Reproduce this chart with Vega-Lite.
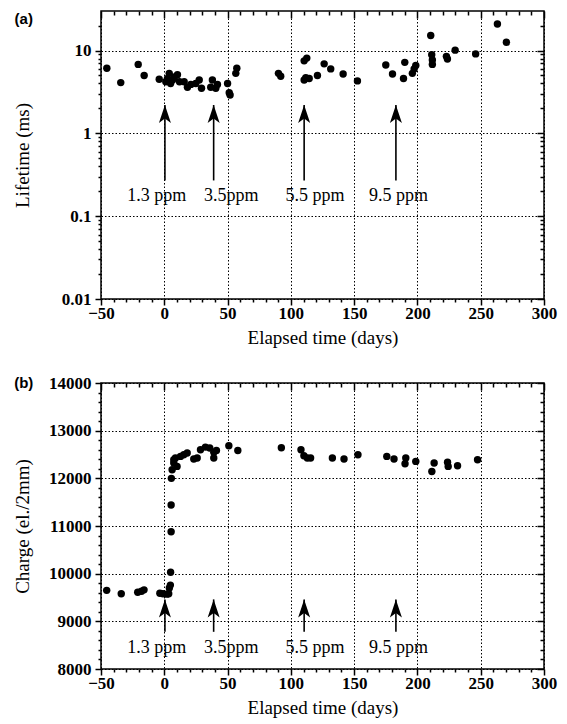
{
  "$schema": "https://vega.github.io/schema/vega-lite/v6.json",
  "padding": {"left": 12, "top": 9, "right": 20, "bottom": 4},
  "spacing": 25,
  "config": {
    "view": {"stroke": "black", "strokeWidth": 1.5},
    "font": "Liberation Serif",
    "axis": {"domain": false, "labelFontSize": 17, "labelFontWeight": "bold", "titleFontSize": 19, "titleFontWeight": "normal", "labelFont": "Liberation Serif", "titleFont": "Liberation Serif"}
  },
  "datasets": {
    "life": [
      {"day": -45.4, "lifetime": 6.1}, {"day": -34.4, "lifetime": 4.1}, {"day": -20.6, "lifetime": 6.8}, {"day": -15.9, "lifetime": 5.0},
      {"day": -4, "lifetime": 4.5}, {"day": 1.2, "lifetime": 4.2}, {"day": 2.5, "lifetime": 4.6}, {"day": 3.9, "lifetime": 5.3},
      {"day": 5, "lifetime": 4.0}, {"day": 6.5, "lifetime": 4.4}, {"day": 8, "lifetime": 4.8}, {"day": 10.4, "lifetime": 5.1},
      {"day": 12, "lifetime": 4.2}, {"day": 15.7, "lifetime": 4.2}, {"day": 18.3, "lifetime": 3.6}, {"day": 21, "lifetime": 3.9},
      {"day": 24.9, "lifetime": 4.0}, {"day": 27.6, "lifetime": 4.4}, {"day": 29.4, "lifetime": 3.5}, {"day": 36.7, "lifetime": 3.6},
      {"day": 38, "lifetime": 4.4}, {"day": 40.7, "lifetime": 3.5}, {"day": 42, "lifetime": 3.9}, {"day": 50, "lifetime": 4.0},
      {"day": 51.3, "lifetime": 3.1}, {"day": 52, "lifetime": 2.9}, {"day": 56.5, "lifetime": 5.3}, {"day": 57.3, "lifetime": 6.1},
      {"day": 90.2, "lifetime": 5.3}, {"day": 92, "lifetime": 4.9}, {"day": 110.5, "lifetime": 7.5}, {"day": 112.6, "lifetime": 8.1},
      {"day": 111.8, "lifetime": 4.7}, {"day": 114.5, "lifetime": 4.6}, {"day": 110.5, "lifetime": 4.4}, {"day": 121, "lifetime": 5.0},
      {"day": 126.3, "lifetime": 6.9}, {"day": 131.5, "lifetime": 6.0}, {"day": 141.3, "lifetime": 5.2}, {"day": 152.6, "lifetime": 4.3},
      {"day": 175, "lifetime": 6.7}, {"day": 180.3, "lifetime": 5.2}, {"day": 190, "lifetime": 7.2}, {"day": 189, "lifetime": 4.6},
      {"day": 196, "lifetime": 5.3}, {"day": 197.4, "lifetime": 6.0}, {"day": 198.7, "lifetime": 6.6}, {"day": 210.5, "lifetime": 15.2},
      {"day": 211.3, "lifetime": 8.9}, {"day": 211.8, "lifetime": 7.7}, {"day": 211.8, "lifetime": 6.8}, {"day": 222.9, "lifetime": 8.5},
      {"day": 223.7, "lifetime": 7.9}, {"day": 229.8, "lifetime": 10.1}, {"day": 246, "lifetime": 9.1}, {"day": 263.2, "lifetime": 20.9},
      {"day": 270.3, "lifetime": 12.6}
    ],
    "charge": [
      {"day": -45.5, "charge": 9650}, {"day": -34, "charge": 9580}, {"day": -21, "charge": 9610}, {"day": -18, "charge": 9630},
      {"day": -16, "charge": 9660}, {"day": -3.5, "charge": 9590}, {"day": -1, "charge": 9580}, {"day": 2, "charge": 9570},
      {"day": 3.5, "charge": 9580}, {"day": 4, "charge": 9700}, {"day": 4.8, "charge": 9760}, {"day": 5, "charge": 10030},
      {"day": 5.4, "charge": 10880}, {"day": 5.4, "charge": 11440}, {"day": 5.6, "charge": 12000}, {"day": 6.2, "charge": 12180},
      {"day": 7.5, "charge": 12320}, {"day": 7.5, "charge": 12390}, {"day": 8.8, "charge": 12425}, {"day": 10.1, "charge": 12250},
      {"day": 12.8, "charge": 12460}, {"day": 15.4, "charge": 12495}, {"day": 18.1, "charge": 12530}, {"day": 23.3, "charge": 12405},
      {"day": 26, "charge": 12425}, {"day": 28.6, "charge": 12600}, {"day": 32.5, "charge": 12655}, {"day": 35.9, "charge": 12635},
      {"day": 39.1, "charge": 12545}, {"day": 41.2, "charge": 12585}, {"day": 39.1, "charge": 12425}, {"day": 51, "charge": 12683},
      {"day": 58.1, "charge": 12585}, {"day": 92.5, "charge": 12640}, {"day": 108, "charge": 12600}, {"day": 110.3, "charge": 12475},
      {"day": 113, "charge": 12425}, {"day": 115.6, "charge": 12425}, {"day": 132.8, "charge": 12425}, {"day": 142, "charge": 12405},
      {"day": 153, "charge": 12495}, {"day": 175.8, "charge": 12460}, {"day": 181.5, "charge": 12405}, {"day": 190.8, "charge": 12425},
      {"day": 190.2, "charge": 12305}, {"day": 198.7, "charge": 12355}, {"day": 213.2, "charge": 12320}, {"day": 211.4, "charge": 12145},
      {"day": 223.8, "charge": 12340}, {"day": 224.3, "charge": 12250}, {"day": 231.7, "charge": 12265}, {"day": 247.5, "charge": 12390}
    ],
    "arrowsA": [
      {"day": 0.5, "from": 0.27, "tip": 2.2, "label_day": -6, "label_y": 0.175, "label": "1.3 ppm"},
      {"day": 39, "from": 0.27, "tip": 2.2, "label_day": 53, "label_y": 0.175, "label": "3.5ppm"},
      {"day": 110.5, "from": 0.27, "tip": 2.2, "label_day": 119, "label_y": 0.175, "label": "5.5 ppm"},
      {"day": 183, "from": 0.27, "tip": 2.2, "label_day": 185, "label_y": 0.175, "label": "9.5 ppm"}
    ],
    "arrowsB": [
      {"day": 0.5, "from": 8780, "tip": 9460, "label_day": -6, "label_y": 8440, "label": "1.3 ppm"},
      {"day": 39, "from": 8780, "tip": 9460, "label_day": 53, "label_y": 8440, "label": "3.5ppm"},
      {"day": 110.5, "from": 8780, "tip": 9460, "label_day": 119, "label_y": 8440, "label": "5.5 ppm"},
      {"day": 183, "from": 8780, "tip": 9460, "label_day": 185, "label_y": 8440, "label": "9.5 ppm"}
    ]
  },
  "vconcat": [
    {
      "width": 443,
      "height": 288,
      "layer": [
        {
          "data": {"name": "life"},
          "mark": {"type": "point", "filled": true, "color": "black", "size": 55, "opacity": 1},
          "encoding": {
            "x": {"field": "day", "type": "quantitative", "scale": {"domain": [-50, 300], "nice": false, "zero": false},
              "axis": {"orient": "bottom", "values": [-50,0,50,100,150,200,250,300], "format": "d", "labelFlush": false,
                "tickSize": 6, "tickColor": "black", "tickWidth": 1.5, "labelPadding": 0,
                "grid": true, "gridColor": "black", "gridDash": [1.5, 2], "gridWidth": 1,
                "title": "Elapsed time (days)", "titlePadding": 7}},
            "y": {"field": "lifetime", "type": "quantitative", "scale": {"type": "log", "domain": [0.01, 30], "nice": false},
              "axis": {"orient": "left", "values": [0.01,0.1,1,10],
                "labelExpr": "datum.value === 10 ? '10' : datum.value === 1 ? '1' : datum.value === 0.1 ? '0.1' : '0.01'",
                "tickSize": 6, "tickColor": "black", "tickWidth": 1.5, "labelPadding": 4,
                "grid": true, "gridColor": "black", "gridDash": [1.5, 2], "gridWidth": 1,
                "title": "Lifetime (ms)", "titleX": -69, "titleBaseline": "bottom"}}
          }
        },
        {
          "data": {"name": "life"},
          "mark": {"type": "point", "opacity": 0},
          "encoding": {
            "x": {"field": "day", "type": "quantitative",
              "axis": {"orient": "top", "values": [-50,0,50,100,150,200,250,300], "labels": false, "title": null, "grid": false, "tickSize": -7, "tickColor": "black", "tickWidth": 1.5}},
            "y": {"field": "lifetime", "type": "quantitative",
              "axis": {"orient": "right", "values": [0.01,0.1,1,10], "labels": false, "title": null, "grid": false, "tickSize": -7, "tickColor": "black", "tickWidth": 1.5}}
          }
        },
        {
          "data": {"name": "life"},
          "mark": {"type": "point", "opacity": 0},
          "encoding": {
            "x": {"field": "day", "type": "quantitative",
              "axis": {"orient": "bottom", "values": [-40,-30,-20,-10,10,20,30,40,60,70,80,90,110,120,130,140,160,170,180,190,210,220,230,240,260,270,280,290], "labels": false, "title": null, "grid": false, "tickSize": 3, "tickColor": "black", "tickWidth": 1.5}},
            "y": {"field": "lifetime", "type": "quantitative",
              "axis": {"orient": "left", "values": [0.02,0.03,0.04,0.05,0.06,0.07,0.08,0.09,0.2,0.3,0.4,0.5,0.6,0.7,0.8,0.9,2,3,4,5,6,7,8,9,20], "labels": false, "title": null, "grid": false, "tickSize": 3, "tickColor": "black", "tickWidth": 1.5}}
          }
        },
        {
          "data": {"name": "life"},
          "mark": {"type": "point", "opacity": 0},
          "encoding": {
            "x": {"field": "day", "type": "quantitative",
              "axis": {"orient": "top", "values": [-40,-30,-20,-10,10,20,30,40,60,70,80,90,110,120,130,140,160,170,180,190,210,220,230,240,260,270,280,290], "labels": false, "title": null, "grid": false, "tickSize": -4, "tickColor": "black", "tickWidth": 1.5}},
            "y": {"field": "lifetime", "type": "quantitative",
              "axis": {"orient": "right", "values": [0.02,0.03,0.04,0.05,0.06,0.07,0.08,0.09,0.2,0.3,0.4,0.5,0.6,0.7,0.8,0.9,2,3,4,5,6,7,8,9,20], "labels": false, "title": null, "grid": false, "tickSize": -4, "tickColor": "black", "tickWidth": 1.5}}
          }
        },
        {
          "data": {"name": "arrowsA"},
          "mark": {"type": "rule", "strokeWidth": 1.6, "color": "black"},
          "encoding": {
            "x": {"field": "day", "type": "quantitative", "axis": null},
            "y": {"field": "from", "type": "quantitative", "axis": null},
            "y2": {"field": "tip"}
          }
        },
        {
          "data": {"name": "arrowsA"},
          "mark": {"type": "point", "shape": "M0,0L0.6,1.8L0,1.35L-0.6,1.8Z", "filled": true, "color": "black", "size": 400, "opacity": 1},
          "encoding": {
            "x": {"field": "day", "type": "quantitative", "axis": null},
            "y": {"field": "tip", "type": "quantitative", "axis": null}
          }
        },
        {
          "data": {"name": "arrowsA"},
          "mark": {"type": "text", "fontSize": 18, "font": "Liberation Serif", "color": "black", "baseline": "middle"},
          "encoding": {
            "x": {"field": "label_day", "type": "quantitative", "axis": null},
            "y": {"field": "label_y", "type": "quantitative", "axis": null},
            "text": {"field": "label"}
          }
        },
        {
          "data": {"values": [{"tag": "(a)"}]},
          "mark": {"type": "text", "fontSize": 15, "font": "Liberation Sans", "fontWeight": "bold", "color": "black", "baseline": "middle", "align": "center"},
          "encoding": {
            "x": {"datum": -111, "type": "quantitative", "axis": null},
            "y": {"datum": 24.2, "type": "quantitative", "axis": null},
            "text": {"field": "tag"}
          }
        }
      ],
      "resolve": {"axis": {"x": "independent", "y": "independent"}}
    },
    {
      "width": 443,
      "height": 286,
      "layer": [
        {
          "data": {"name": "charge"},
          "mark": {"type": "point", "filled": true, "color": "black", "size": 55, "opacity": 1},
          "encoding": {
            "x": {"field": "day", "type": "quantitative", "scale": {"domain": [-50, 300], "nice": false, "zero": false},
              "axis": {"orient": "bottom", "values": [-50,0,50,100,150,200,250,300], "format": "d", "labelFlush": false,
                "tickSize": 6, "tickColor": "black", "tickWidth": 1.5, "labelPadding": 0,
                "grid": true, "gridColor": "black", "gridDash": [1.5, 2], "gridWidth": 1,
                "title": "Elapsed time (days)", "titlePadding": 7}},
            "y": {"field": "charge", "type": "quantitative", "scale": {"domain": [8000, 14000], "nice": false, "zero": false},
              "axis": {"orient": "left", "values": [8000,9000,10000,11000,12000,13000,14000], "format": "d",
                "tickSize": 6, "tickColor": "black", "tickWidth": 1.5, "labelPadding": 4,
                "grid": true, "gridColor": "black", "gridDash": [1.5, 2], "gridWidth": 1,
                "title": "Charge (el./2mm)", "titleX": -69, "titleBaseline": "bottom"}}
          }
        },
        {
          "data": {"name": "charge"},
          "mark": {"type": "point", "opacity": 0},
          "encoding": {
            "x": {"field": "day", "type": "quantitative",
              "axis": {"orient": "top", "values": [-50,0,50,100,150,200,250,300], "labels": false, "title": null, "grid": false, "tickSize": -7, "tickColor": "black", "tickWidth": 1.5}},
            "y": {"field": "charge", "type": "quantitative",
              "axis": {"orient": "right", "values": [8000,9000,10000,11000,12000,13000,14000], "labels": false, "title": null, "grid": false, "tickSize": -7, "tickColor": "black", "tickWidth": 1.5}}
          }
        },
        {
          "data": {"name": "charge"},
          "mark": {"type": "point", "opacity": 0},
          "encoding": {
            "x": {"field": "day", "type": "quantitative",
              "axis": {"orient": "bottom", "values": [-40,-30,-20,-10,10,20,30,40,60,70,80,90,110,120,130,140,160,170,180,190,210,220,230,240,260,270,280,290], "labels": false, "title": null, "grid": false, "tickSize": 3, "tickColor": "black", "tickWidth": 1.5}},
            "y": {"field": "charge", "type": "quantitative",
              "axis": {"orient": "left", "values": [8200,8400,8600,8800,9200,9400,9600,9800,10200,10400,10600,10800,11200,11400,11600,11800,12200,12400,12600,12800,13200,13400,13600,13800], "labels": false, "title": null, "grid": false, "tickSize": 3, "tickColor": "black", "tickWidth": 1.5}}
          }
        },
        {
          "data": {"name": "charge"},
          "mark": {"type": "point", "opacity": 0},
          "encoding": {
            "x": {"field": "day", "type": "quantitative",
              "axis": {"orient": "top", "values": [-40,-30,-20,-10,10,20,30,40,60,70,80,90,110,120,130,140,160,170,180,190,210,220,230,240,260,270,280,290], "labels": false, "title": null, "grid": false, "tickSize": -4, "tickColor": "black", "tickWidth": 1.5}},
            "y": {"field": "charge", "type": "quantitative",
              "axis": {"orient": "right", "values": [8200,8400,8600,8800,9200,9400,9600,9800,10200,10400,10600,10800,11200,11400,11600,11800,12200,12400,12600,12800,13200,13400,13600,13800], "labels": false, "title": null, "grid": false, "tickSize": -4, "tickColor": "black", "tickWidth": 1.5}}
          }
        },
        {
          "data": {"name": "arrowsB"},
          "mark": {"type": "rule", "strokeWidth": 1.6, "color": "black"},
          "encoding": {
            "x": {"field": "day", "type": "quantitative", "axis": null},
            "y": {"field": "from", "type": "quantitative", "axis": null},
            "y2": {"field": "tip"}
          }
        },
        {
          "data": {"name": "arrowsB"},
          "mark": {"type": "point", "shape": "M0,0L0.6,1.8L0,1.35L-0.6,1.8Z", "filled": true, "color": "black", "size": 400, "opacity": 1},
          "encoding": {
            "x": {"field": "day", "type": "quantitative", "axis": null},
            "y": {"field": "tip", "type": "quantitative", "axis": null}
          }
        },
        {
          "data": {"name": "arrowsB"},
          "mark": {"type": "text", "fontSize": 18, "font": "Liberation Serif", "color": "black", "baseline": "middle"},
          "encoding": {
            "x": {"field": "label_day", "type": "quantitative", "axis": null},
            "y": {"field": "label_y", "type": "quantitative", "axis": null},
            "text": {"field": "label"}
          }
        },
        {
          "data": {"values": [{"tag": "(b)"}]},
          "mark": {"type": "text", "fontSize": 15, "font": "Liberation Sans", "fontWeight": "bold", "color": "black", "baseline": "middle", "align": "center"},
          "encoding": {
            "x": {"datum": -111, "type": "quantitative", "axis": null},
            "y": {"datum": 14000, "type": "quantitative", "axis": null},
            "text": {"field": "tag"}
          }
        }
      ],
      "resolve": {"axis": {"x": "independent", "y": "independent"}}
    }
  ]
}
